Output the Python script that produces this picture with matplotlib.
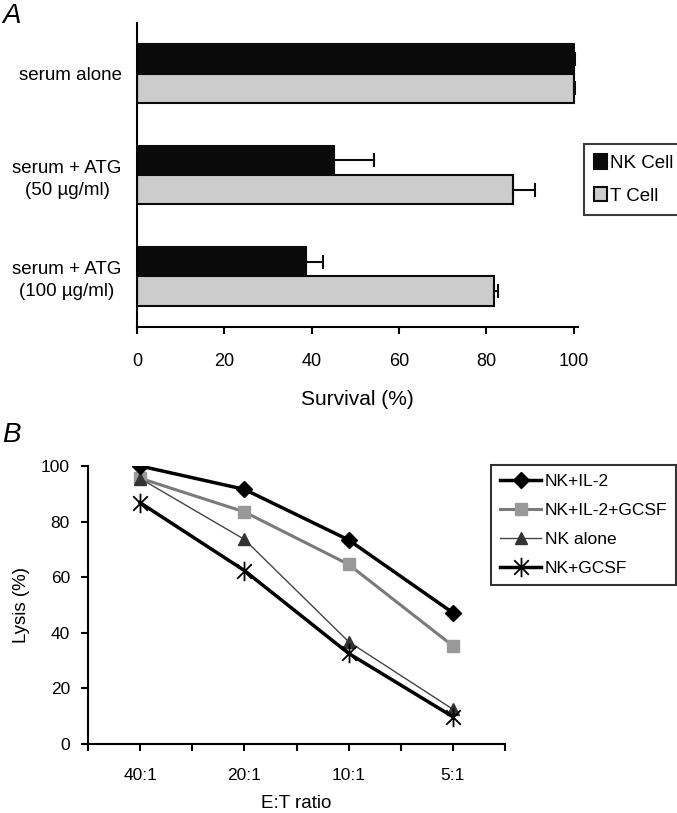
import numpy as np
import matplotlib
matplotlib.use('Agg')
import matplotlib.pyplot as plt
from matplotlib.path import Path
from matplotlib.ticker import FixedLocator

plt.rcParams['font.family'] = ['Liberation Sans', 'DejaVu Sans']

# panel A data
conditions = ['serum alone', 'serum + ATG\n(50 \u00b5g/ml)', 'serum + ATG\n(100 \u00b5g/ml)']
nk_survival = [100, 45.2, 38.7]
nk_err = [0.3, 9.0, 3.8]
t_survival = [100, 86.0, 81.7]
t_err = [0.3, 5.2, 1.0]

# panel B data
ratios = ['40:1', '20:1', '10:1', '5:1']
nk_il2 = [100, 91.6, 73.4, 47.2]
nk_il2_gcsf = [95.6, 83.5, 64.6, 35.3]
nk_alone = [95.5, 73.6, 36.8, 12.5]
nk_gcsf = [86.8, 62.4, 32.6, 9.8]

W, H = 677, 813
fig = plt.figure(figsize=(W / 100, H / 100), dpi=100)

def box(l, t, r, b):
    return [l / W, 1 - b / H, (r - l) / W, (b - t) / H]

# excel style star: X with a vertical stroke
star = Path([(0, -1), (0, 1), (-0.75, -0.75), (0.75, 0.75), (-0.75, 0.75), (0.75, -0.75)],
            [Path.MOVETO, Path.LINETO, Path.MOVETO, Path.LINETO, Path.MOVETO, Path.LINETO])

# ---- panel A
axA = fig.add_axes(box(137, 23, 578, 327))
y = np.arange(len(conditions))
h = 0.29
axA.barh(y - h / 2, nk_survival, height=h, color='#0a0a0a', edgecolor='#0a0a0a',
         linewidth=1.5, label='NK Cell', zorder=2)
axA.barh(y + h / 2, t_survival, height=h, color='#cccccc', edgecolor='#0a0a0a',
         linewidth=1.5, label='T Cell', zorder=2)
axA.errorbar(nk_survival, y - h / 2, xerr=[np.zeros(3), nk_err], fmt='none',
             ecolor='#0a0a0a', elinewidth=1.5, capsize=4.7, capthick=1.5, zorder=3)
axA.errorbar(t_survival, y + h / 2, xerr=[np.zeros(3), t_err], fmt='none',
             ecolor='#0a0a0a', elinewidth=1.5, capsize=4.7, capthick=1.5, zorder=3)
axA.set_xlim(0, 101)
axA.set_ylim(2.5, -0.5)
axA.set_xticks([0, 20, 40, 60, 80, 100])
axA.set_yticks(y)
axA.set_yticklabels(conditions, fontsize=13.5, linespacing=1.35)
for lab in axA.get_yticklabels():
    lab.set_multialignment('center')
axA.tick_params(axis='y', length=0, pad=11)
axA.tick_params(axis='x', length=5, width=1.5, pad=14, labelsize=13)
axA.set_xlabel('Survival (%)', fontsize=15, labelpad=14)
for s in ['top', 'right']:
    axA.spines[s].set_visible(False)
for s in ['left', 'bottom']:
    axA.spines[s].set_linewidth(1.5)
legA = axA.legend(loc='upper left', bbox_to_anchor=(584 / W, 1 - 144 / H),
                  bbox_transform=fig.transFigure, borderaxespad=0, fontsize=13.5,
                  handlelength=0.65, handleheight=0.8, handletextpad=0.2,
                  labelspacing=0.8, borderpad=0.55, fancybox=False, frameon=True)
legA.get_frame().set_edgecolor('#0a0a0a')
legA.get_frame().set_linewidth(1.5)

fig.text(2 / W, 1 - 23 / H, 'A', fontsize=20, style='italic', ha='left', va='baseline')

# ---- panel B
axB = fig.add_axes(box(88, 466, 505, 744))
x = np.arange(len(ratios))
axB.plot(x, nk_il2, color='#000000', lw=2.5, marker='D', ms=8, mfc='#000000',
         mec='#000000', label='NK+IL-2', zorder=4)
axB.plot(x, nk_il2_gcsf, color='#7a7a7a', lw=2.2, marker='s', ms=8, mfc='#999999',
         mec='#999999', label='NK+IL-2+GCSF', zorder=3)
axB.plot(x, nk_alone, color='#444444', lw=1.0, marker='^', ms=8, mfc='#333333',
         mec='#333333', label='NK alone', zorder=3)
axB.plot(x, nk_gcsf, color='#000000', lw=2.5, marker=star, ms=14, mew=1.3,
         mec='#000000', label='NK+GCSF', zorder=4)
axB.set_xlim(-0.5, 3.5)
axB.set_ylim(0, 100)
axB.set_xticks(x)
axB.set_xticklabels(ratios)
axB.xaxis.set_minor_locator(FixedLocator([-0.5, 0.5, 1.5, 2.5, 3.5]))
axB.set_yticks([0, 20, 40, 60, 80, 100])
axB.tick_params(axis='x', which='both', length=5, width=1.5, pad=12, labelsize=12.5)
axB.tick_params(axis='y', length=5, width=1.5, pad=8, labelsize=12.5)
axB.set_xlabel('E:T ratio', fontsize=13.5, labelpad=9)
axB.set_ylabel('Lysis (%)', fontsize=13.5, labelpad=8)
for s in ['top', 'right']:
    axB.spines[s].set_visible(False)
for s in ['left', 'bottom']:
    axB.spines[s].set_linewidth(1.5)
legB = axB.legend(loc='upper left', bbox_to_anchor=(491 / W, 1 - 465 / H),
                  bbox_transform=fig.transFigure, borderaxespad=0, fontsize=12.5,
                  handlelength=2.4, handletextpad=0.2, labelspacing=0.8,
                  borderpad=0.5, fancybox=False, frameon=True)
legB.get_frame().set_edgecolor('#000000')
legB.get_frame().set_linewidth(1.5)

fig.text(2 / W, 1 - 442 / H, 'B', fontsize=20, style='italic', ha='left', va='baseline')

fig.savefig('out.png', dpi=100)
